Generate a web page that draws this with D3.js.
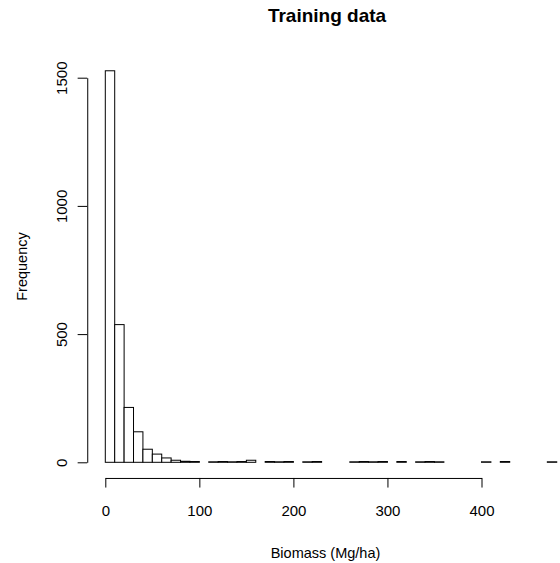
<!DOCTYPE html>
<html>
<head>
<meta charset="utf-8">
<script src="https://cdn.jsdelivr.net/npm/d3@7"></script>
<style>
  html, body { margin: 0; padding: 0; background: #fff; }
  svg text { font-family: "Liberation Sans", Arial, sans-serif; fill: #000; }
</style>
</head>
<body>
<script>
// histogram bins (lower edges, width 10) and counts
const breaks = [0, 10, 20, 30, 40, 50, 60, 70, 80, 90, 100, 110, 120, 130, 140, 150,
    160, 170, 180, 190, 200, 210, 220, 230, 240, 250, 260, 270, 280, 290, 300, 310,
    320, 330, 340, 350, 360, 370, 380, 390, 400, 410, 420, 430, 440, 450, 460, 470, 480];
const counts = [1527, 537, 214, 119, 51, 32, 17, 8, 4, 3, 0, 2, 3, 2, 3, 8,
    0, 3, 2, 3, 0, 2, 3, 0, 0, 0, 2, 3, 2, 3, 0, 3,
    0, 2, 3, 2, 0, 0, 0, 0, 2, 0, 3, 0, 0, 0, 0, 2];
const xTicks = [0, 100, 200, 300, 400];
const yTicks = [0, 500, 1000, 1500];

const width = 560;
const height = 563;

const bins = counts.map((c, i) => ({ x0: breaks[i], x1: breaks[i + 1], count: c }));

const xScale = d3.scaleLinear().domain([0, 400]).range([105.3, 481.5]);
const yScale = d3.scaleLinear().domain([0, 1500]).range([462.3, 77.7]);

// R style: plot region is the data range padded by 4%
const xMin = breaks[0] - 0.04 * (breaks[breaks.length - 1] - breaks[0]);
const yMin = -0.04 * d3.max(counts);
const plotLeft = xScale(xMin);
const plotBottom = yScale(yMin);
const plotTop = yScale(d3.max(counts) * 1.04);
const line = 19.2;

const svg = d3.select("body").append("svg")
    .attr("width", width)
    .attr("height", height);

svg.selectAll("rect.bar")
    .data(bins)
    .enter()
    .append("rect")
    .attr("class", "bar")
    .attr("x", d => xScale(d.x0))
    .attr("y", d => yScale(d.count))
    .attr("width", d => xScale(d.x1) - xScale(d.x0))
    .attr("height", d => yScale(0) - yScale(d.count))
    .attr("fill", "white")
    .attr("stroke", "black")
    .attr("stroke-width", 1);

const xAxis = d3.axisBottom(xScale)
    .tickValues(xTicks)
    .tickSize(9.6)
    .tickSizeOuter(0)
    .tickFormat(d => d);

const gx = svg.append("g")
    .attr("transform", `translate(0, ${plotBottom})`)
    .call(xAxis);
gx.selectAll("text")
    .attr("y", 2 * line)
    .attr("dy", 0)
    .style("font-size", "15px");

const yAxis = d3.axisLeft(yScale)
    .tickValues(yTicks)
    .tickSize(9.6)
    .tickSizeOuter(0)
    .tickFormat(d => d);

const gy = svg.append("g")
    .attr("transform", `translate(${plotLeft}, 0)`)
    .call(yAxis);
gy.selectAll("text")
    .attr("x", 0)
    .attr("y", 0)
    .attr("dy", 0)
    .attr("text-anchor", "middle")
    .attr("transform", `translate(${-line - 1}, 0) rotate(-90)`)
    .style("font-size", "15px");

svg.selectAll(".domain, .tick line").attr("stroke", "#000");
svg.selectAll(".tick text").attr("fill", "#000");

const midX = 325.5;
const midY = (plotTop + plotBottom) / 2;

svg.append("text")
    .attr("x", midX + 1.5)
    .attr("y", 21.7)
    .attr("text-anchor", "middle")
    .style("font-size", "19px")
    .style("font-weight", "bold")
    .text("Training data");

svg.append("text")
    .attr("x", midX)
    .attr("y", 557.5)
    .attr("text-anchor", "middle")
    .style("font-size", "14.5px")
    .text("Biomass (Mg/ha)");

svg.append("text")
    .attr("transform", `translate(27, ${midY}) rotate(-90)`)
    .attr("text-anchor", "middle")
    .style("font-size", "14.5px")
    .text("Frequency");
</script>
</body>
</html>
